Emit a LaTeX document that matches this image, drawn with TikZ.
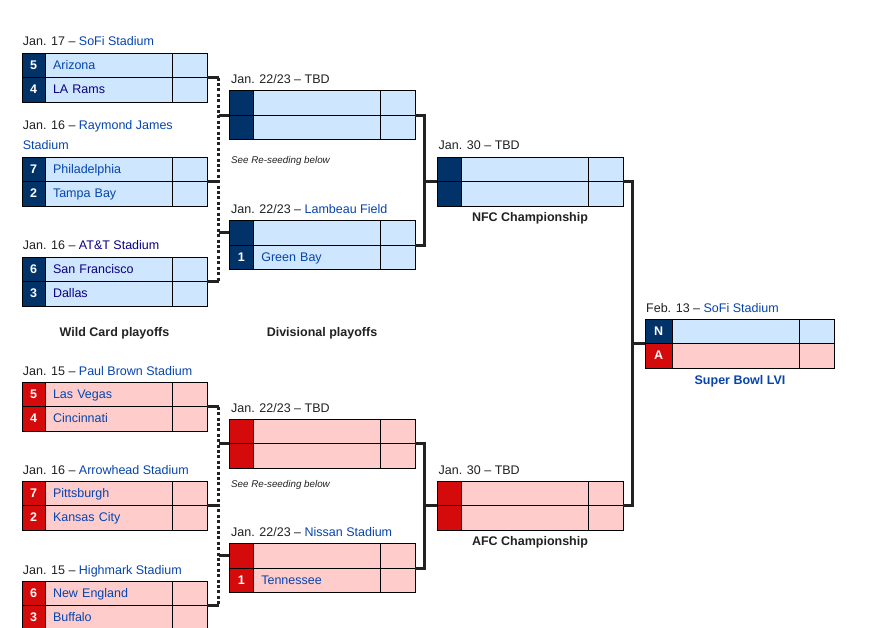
\documentclass[tikz,border=0pt]{standalone}
\usepackage{fontspec}
\setmainfont{Liberation Sans}
\definecolor{nfcd}{HTML}{013369}
\definecolor{nfcl}{HTML}{CFE6FF}
\definecolor{afcd}{HTML}{D50A0A}
\definecolor{afcl}{HTML}{FFCCCC}
\definecolor{lnk}{HTML}{0645AD}
\definecolor{vis}{HTML}{0B0080}
\definecolor{txt}{HTML}{202122}
\definecolor{con}{HTML}{222222}
\newcommand\trow[7]{% name, coord, seedw, dark, light, seed, team
  \node[cell, fill=#4, minimum width=#3, text=white, font=\fontsize{12.5}{15}\selectfont\bfseries] (#1s) at #2 {#6};
  \node[cell, fill=#5, minimum width=127pt, text width=111pt, align=left, text=lnk] (#1t) at (#1s.north east) {#7};
  \node[cell, fill=#5, minimum width=35pt] (#1c) at (#1t.north east) {};
}
\begin{document}
\begin{tikzpicture}[x=1pt,y=-1pt,
  font=\fontsize{12.5}{15}\selectfont,
  cell/.style={draw=black, line width=0.9pt, minimum height=24.4pt, inner sep=0pt,
    outer sep=0pt, text height=9.6pt, text depth=2pt, anchor=north west},
  lab/.style={anchor=base west, inner sep=0pt, text=txt},
  rnd/.style={anchor=base, inner sep=0pt, text=txt, font=\fontsize{12.5}{15}\selectfont\bfseries},
  note/.style={anchor=base west, inner sep=0pt, text=txt, font=\fontsize{9.8}{12}\selectfont\itshape},
  conn/.style={line width=3pt, draw=con},
  dotl/.style={line width=3pt, draw=con, dash pattern=on 3pt off 2.4pt}]
\fill[white] (0,0) rectangle (869,628);
\clip (0,0) rectangle (869,628);

% ---------- NFC wild card ----------
\node[lab] (lwc1) at (22.7,46) {Jan. 17 – \textcolor{lnk}{SoFi Stadium}};
\trow{wc1a}{(22,53.3)}{23pt}{nfcd}{nfcl}{5}{Arizona}
\trow{wc1b}{(wc1as.south west)}{23pt}{nfcd}{nfcl}{4}{\textcolor{vis}{LA Rams}}
\node[lab] (lwc2) at (22.7,130) {Jan. 16 – \textcolor{lnk}{Raymond James}};
\node[lab] (lwc2b) at (22.7,149.5) {\textcolor{lnk}{Stadium}};
\trow{wc2a}{(22,157.3)}{23pt}{nfcd}{nfcl}{7}{Philadelphia}
\trow{wc2b}{(wc2as.south west)}{23pt}{nfcd}{nfcl}{2}{Tampa Bay}
\node[lab] (lwc3) at (22.7,250) {Jan. 16 – \textcolor{vis}{AT\&T Stadium}};
\trow{wc3a}{(22,257.3)}{23pt}{nfcd}{nfcl}{6}{\textcolor{vis}{San Francisco}}
\trow{wc3b}{(wc3as.south west)}{23pt}{nfcd}{nfcl}{3}{\textcolor{vis}{Dallas}}

% ---------- NFC divisional ----------
\node[lab] (ldv1) at (231,83.4) {Jan. 22/23 – TBD};
\trow{dv1a}{(229.3,90.7)}{24pt}{nfcd}{nfcl}{}{}
\trow{dv1b}{(dv1as.south west)}{24pt}{nfcd}{nfcl}{}{}
\node[note] (rs1) at (231,163.3) {See Re-seeding below};
\node[lab] (ldv2) at (231,213.4) {Jan. 22/23 – \textcolor{lnk}{Lambeau Field}};
\trow{dv2a}{(229.3,220.7)}{24pt}{nfcd}{nfcl}{}{}
\trow{dv2b}{(dv2as.south west)}{24pt}{nfcd}{nfcl}{1}{Green Bay}

% ---------- NFC championship ----------
\node[lab] (lcf1) at (438.5,150) {Jan. 30 – TBD};
\trow{cf1a}{(437.3,157.3)}{24pt}{nfcd}{nfcl}{}{}
\trow{cf1b}{(cf1as.south west)}{24pt}{nfcd}{nfcl}{}{}
\node[rnd] (nfcc) at (530,221.7) {NFC Championship};

% ---------- round labels ----------
\node[rnd] (rwc) at (114.5,336.7) {Wild Card playoffs};
\node[rnd] (rdv) at (322,336.7) {Divisional playoffs};

% ---------- Super Bowl ----------
\node[lab] (lsb) at (646,312) {Feb. 13 – \textcolor{lnk}{SoFi Stadium}};
\trow{sba}{(645,319.3)}{27.3pt}{nfcd}{nfcl}{N}{}
\trow{sbb}{(sbas.south west)}{27.3pt}{afcd}{afcl}{A}{}
\node[rnd, text=lnk] (sbt) at (740,384) {Super Bowl LVI};

% ---------- AFC wild card ----------
\node[lab] (lwc4) at (22.7,375) {Jan. 15 – \textcolor{lnk}{Paul Brown Stadium}};
\trow{wc4a}{(22,382.3)}{23pt}{afcd}{afcl}{5}{Las Vegas}
\trow{wc4b}{(wc4as.south west)}{23pt}{afcd}{afcl}{4}{Cincinnati}
\node[lab] (lwc5) at (22.7,474) {Jan. 16 – \textcolor{lnk}{Arrowhead Stadium}};
\trow{wc5a}{(22,481.3)}{23pt}{afcd}{afcl}{7}{Pittsburgh}
\trow{wc5b}{(wc5as.south west)}{23pt}{afcd}{afcl}{2}{Kansas City}
\node[lab] (lwc6) at (22.7,574) {Jan. 15 – \textcolor{lnk}{Highmark Stadium}};
\trow{wc6a}{(22,581.3)}{23pt}{afcd}{afcl}{6}{New England}
\trow{wc6b}{(wc6as.south west)}{23pt}{afcd}{afcl}{3}{Buffalo}

% ---------- AFC divisional ----------
\node[lab] (ldv3) at (231,412) {Jan. 22/23 – TBD};
\trow{dv3a}{(229.3,419.3)}{24pt}{afcd}{afcl}{}{}
\trow{dv3b}{(dv3as.south west)}{24pt}{afcd}{afcl}{}{}
\node[note] (rs2) at (231,487) {See Re-seeding below};
\node[lab] (ldv4) at (231,536.4) {Jan. 22/23 – \textcolor{lnk}{Nissan Stadium}};
\trow{dv4a}{(229.3,543.7)}{24pt}{afcd}{afcl}{}{}
\trow{dv4b}{(dv4as.south west)}{24pt}{afcd}{afcl}{1}{Tennessee}

% ---------- AFC championship ----------
\node[lab] (lcf2) at (438.5,474) {Jan. 30 – TBD};
\trow{cf2a}{(437.3,481.3)}{24pt}{afcd}{afcl}{}{}
\trow{cf2b}{(cf2as.south west)}{24pt}{afcd}{afcl}{}{}
\node[rnd] (afcc) at (530,545.5) {AFC Championship};

% ---------- connectors ----------
\coordinate (nx) at (218.5,0);
\coordinate (dx) at (424.5,0);
\coordinate (sx) at (632.5,0);
% NFC
\foreach \b in {wc1a,wc2a,wc3a}
  \draw[conn] (\b c.south east) -- (\b c.south east -| nx);
\draw[dotl] (wc1ac.south east -| nx) -- (wc3ac.south east -| nx);
\draw[conn] (dv1as.south west -| nx) -- (dv1as.south west);
\draw[conn] (dv2as.west -| nx) -- (dv2as.west);
\draw[conn] (dv1ac.south east) -- (dv1ac.south east -| dx) -- (dv2ac.south east -| dx) -- (dv2ac.south east);
\draw[conn] (cf1as.south west -| dx) -- (cf1as.south west);
% AFC
\foreach \b in {wc4a,wc5a,wc6a}
  \draw[conn] (\b c.south east) -- (\b c.south east -| nx);
\draw[dotl] (wc4ac.south east -| nx) -- (wc6ac.south east -| nx);
\draw[conn] (dv3as.south west -| nx) -- (dv3as.south west);
\draw[conn] (dv4as.west -| nx) -- (dv4as.west);
\draw[conn] (dv3ac.south east) -- (dv3ac.south east -| dx) -- (dv4ac.south east -| dx) -- (dv4ac.south east);
\draw[conn] (cf2as.south west -| dx) -- (cf2as.south west);
% Super Bowl
\draw[conn] (cf1ac.south east) -- (cf1ac.south east -| sx) -- (cf2ac.south east -| sx) -- (cf2ac.south east);
\draw[conn] (sbas.south west -| sx) -- (sbas.south west);
\end{tikzpicture}
\end{document}
